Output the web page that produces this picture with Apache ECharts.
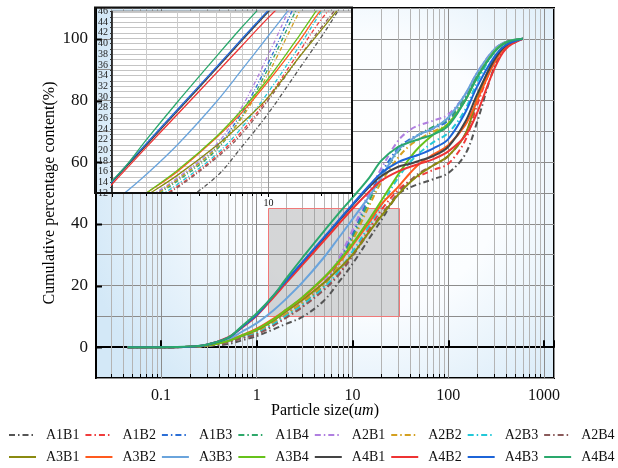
<!DOCTYPE html>
<html>
<head>
<meta charset="utf-8">
<script src="https://cdn.jsdelivr.net/npm/echarts@6/dist/echarts.min.js"></script>
<style>
html, body { margin: 0; padding: 0; background: #ffffff; }
#chart { width: 618px; height: 468px; }
</style>
</head>
<body>
<div id="chart"></div>
<script>
// Particle size (um) at which each cumulative curve is sampled
const sizes = [0.045, 0.1, 0.2, 0.3, 0.5, 0.7, 1, 1.5, 2, 3, 5, 7, 10, 15, 20, 30, 40, 50, 70, 100, 150, 200, 300, 400, 600];

// Cumulative percentage content (%) per sample
const A1B1 = [0, 0, 0.05, 0.3, 1.0, 2.2, 3.6, 5.8, 7.5, 9.8, 15, 20.6, 27, 35.3, 41.2, 49.5, 51.8, 53, 54.5, 56.5, 62.5, 73, 90.5, 97, 100];
const A1B2 = [0, 0, 0.1, 0.4, 1.6, 3.0, 4.3, 7.2, 9.6, 13.2, 18.8, 23.5, 30, 38.5, 44.5, 51, 54, 55.5, 57.5, 59.5, 67, 78.5, 92.5, 97.8, 100];
const A1B3 = [0, 0, 0.1, 0.5, 1.8, 3.4, 5.0, 8.2, 10.8, 14.5, 20.5, 27, 36.5, 49, 56.5, 64.5, 67.5, 69, 71, 73.5, 80.5, 88, 96, 99, 100];
const A1B4 = [0, 0, 0.1, 0.5, 1.8, 3.3, 4.8, 8.0, 10.5, 14.2, 20, 26.3, 35.5, 47.5, 55, 63.5, 67, 69, 71.5, 74, 81.5, 88.5, 96.3, 99, 100];
const A2B1 = [0, 0, 0.1, 0.5, 1.8, 3.5, 5.2, 8.5, 11, 14.8, 21, 28, 38, 50.5, 58, 67, 70.5, 72, 73.5, 75.5, 82, 89, 96.5, 99, 100];
const A2B2 = [0, 0, 0.1, 0.5, 1.8, 3.3, 4.8, 8.0, 10.6, 14.5, 20.3, 26, 34.5, 46, 53.5, 61.5, 65.5, 67.5, 70, 72.5, 80, 87.5, 96, 99, 100];
const A2B3 = [0, 0, 0.1, 0.4, 1.7, 3.1, 4.5, 7.5, 10, 13.6, 19.2, 24.2, 31, 39.5, 46, 55, 60, 63, 66.5, 69.5, 77, 86, 95.5, 98.8, 100];
const A2B4 = [0, 0, 0.1, 0.4, 1.6, 2.9, 4.2, 7.0, 9.4, 13, 18.5, 23, 29.5, 37.5, 43, 50, 54, 56.5, 59, 62, 69, 80, 93.5, 98, 100];
const A3B1 = [0, 0, 0.1, 0.5, 2.0, 3.6, 5.5, 8.7, 11.5, 15.3, 20.8, 25, 30, 37.5, 42.5, 49.5, 53.5, 56, 59, 62, 69, 80.5, 93.5, 98, 100];
const A3B2 = [0, 0, 0.1, 0.5, 2.1, 3.9, 6.0, 9.3, 12, 16, 22.3, 27, 33, 40.5, 46.3, 52, 56.5, 59.5, 62.5, 65.5, 72, 80, 92, 97.5, 100];
const A3B3 = [0, 0, 0.1, 0.6, 2.5, 5.0, 7.8, 12, 15.5, 21, 29, 35, 41.5, 49, 55, 64, 67, 69, 71, 74.5, 82, 89, 96.5, 99, 100];
const A3B4 = [0, 0, 0.1, 0.5, 2.0, 3.8, 5.8, 9.0, 12, 16.2, 22.5, 27.5, 33.5, 41.5, 47.5, 56, 61.5, 65, 69, 72.5, 80, 87.5, 95.8, 98.8, 100];
const A4B1 = [0, 0, 0.15, 0.8, 3.0, 6.5, 10.5, 16.6, 21, 27.3, 35.2, 40.5, 46, 52, 55.5, 58.5, 59.5, 60.5, 62, 65, 73, 82, 93, 97.8, 100];
const A4B2 = [0, 0, 0.15, 0.8, 3.2, 6.3, 10.2, 16.2, 20.6, 26.7, 34.4, 39.5, 44.9, 50.5, 54, 57, 58.5, 59.5, 61, 63.5, 68.5, 76, 90, 96.8, 100];
const A4B3 = [0, 0, 0.15, 0.8, 3.0, 6.5, 10.5, 16.8, 21.3, 27.6, 35.5, 40.8, 46.3, 52.5, 56.5, 60, 61.5, 62.5, 64.5, 67.5, 76, 84.5, 94, 98, 100];
const A4B4 = [0, 0, 0.2, 0.8, 3.0, 6.8, 11, 16.8, 22, 29, 37.5, 43, 48.5, 55, 60.5, 65, 66.5, 67.5, 69, 71.8, 80, 87.5, 95.5, 98.8, 100];

const sampleNames = ['A1B1', 'A1B2', 'A1B3', 'A1B4', 'A2B1', 'A2B2', 'A2B3', 'A2B4',
                     'A3B1', 'A3B2', 'A3B3', 'A3B4', 'A4B1', 'A4B2', 'A4B3', 'A4B4'];
const sampleValues = [A1B1, A1B2, A1B3, A1B4, A2B1, A2B2, A2B3, A2B4,
                      A3B1, A3B2, A3B3, A3B4, A4B1, A4B2, A4B3, A4B4];

// Axis ticks
const xLabelTicks = [0.1, 1, 10, 100, 1000];
const yLabelTicks = [0, 20, 40, 60, 80, 100];
const insetXLabelTicks = [10];

// Highlighted region that the inset enlarges
const zoomX = [1.32, 31];
const zoomY = [10, 45];

// ---- styling ----
const FONT = "'Liberation Serif', 'Times New Roman', serif";
const lineColors = {
  A1B1: '#555555', A1B2: '#f03c3c', A1B3: '#2c6fd6', A1B4: '#2ea86a',
  A2B1: '#b07fe0', A2B2: '#d4a020', A2B3: '#22c8d8', A2B4: '#8a5a5a',
  A3B1: '#8a8a10', A3B2: '#ff5a1e', A3B3: '#6aa4dc', A3B4: '#66c21a',
  A4B1: '#444444', A4B2: '#ee3333', A4B3: '#1c64d8', A4B4: '#2aa86c'
};
const isDashDot = name => name[1] === '1' || name[1] === '2';

const X_MIN = 0.021, X_MAX = 1270, Y_MIN = -10, Y_MAX = 110;
const IX_MIN = 1.27, IX_MAX = 30, IY_MIN = 12, IY_MAX = 46;

function minorLogSteps(lo, hi) {
  const out = [];
  for (let e = -3; e <= 4; e++) {
    const d = Math.pow(10, e);
    for (let k = 2; k <= 9; k++) {
      const v = +(k * d).toPrecision(6);
      if (v > lo * 1.001 && v < hi * 0.999) out.push(v);
    }
  }
  return out;
}

// vertical minor grid line with a short tick at the axis
function minorGridSeries(xIdx, yIdx, xs, yLo, yHi, gridColor, tickLen, tickDir, z) {
  return {
    type: 'custom', xAxisIndex: xIdx, yAxisIndex: yIdx, silent: true, z: z,
    data: xs.map(v => [v, yLo]),
    encode: { x: 0, y: 1 },
    renderItem: function (params, api) {
      const x = api.value(0);
      const a = api.coord([x, yLo]);
      const b = api.coord([x, yHi]);
      const px = Math.round(a[0]) + 0.5;
      return {
        type: 'group',
        children: [
          { type: 'line', shape: { x1: px, y1: a[1], x2: px, y2: b[1] }, style: { stroke: gridColor, lineWidth: 1 } },
          { type: 'line', shape: { x1: px, y1: a[1], x2: px, y2: a[1] + tickDir * tickLen }, style: { stroke: '#000', lineWidth: 1 } }
        ]
      };
    }
  };
}

// major ticks on the main y axis
function yTickSeries(values, len, z) {
  return {
    type: 'custom', xAxisIndex: 0, yAxisIndex: 0, silent: true, z: z,
    data: values.map(v => [X_MIN, v]),
    encode: { x: 0, y: 1 },
    renderItem: function (params, api) {
      const p = api.coord([X_MIN, api.value(1)]);
      const py = Math.round(p[1]) + 0.5;
      return { type: 'line', shape: { x1: p[0], y1: py, x2: p[0] + len, y2: py }, style: { stroke: '#000', lineWidth: 2 } };
    }
  };
}

const series = [];
series.push(minorGridSeries(0, 0, minorLogSteps(X_MIN, X_MAX), Y_MIN, Y_MAX, '#b4b4b4', 4, -1, 1));
series.push(yTickSeries(yLabelTicks, 6, 1));

// shaded box marking the enlarged range
series.push({
  type: 'custom', xAxisIndex: 0, yAxisIndex: 0, silent: true, z: 2,
  data: [[zoomX[0], zoomY[0], zoomX[1], zoomY[1]]],
  encode: { x: [0, 2], y: [1, 3] },
  renderItem: function (params, api) {
    const a = api.coord([api.value(0), api.value(1)]);
    const b = api.coord([api.value(2), api.value(3)]);
    return {
      type: 'rect',
      shape: { x: Math.round(a[0]) + 0.5, y: Math.round(b[1]) + 0.5, width: Math.round(b[0] - a[0]), height: Math.round(a[1] - b[1]) },
      style: { fill: 'rgba(150,150,150,0.38)', stroke: '#f07878', lineWidth: 1 }
    };
  }
});

sampleNames.forEach((name, i) => {
  const pts = sizes.map((s, j) => [s, sampleValues[i][j]]);
  const dash = isDashDot(name);
  series.push({
    name: name, type: 'line', xAxisIndex: 0, yAxisIndex: 0, data: pts,
    symbol: 'none', smooth: 0.35, z: 3,
    lineStyle: { color: lineColors[name], width: 2, type: dash ? [6, 3, 1.5, 3] : 'solid' },
    itemStyle: { color: lineColors[name] }
  });
});

series.push(minorGridSeries(1, 1, minorLogSteps(IX_MIN, IX_MAX), IY_MIN, IY_MAX, '#cccccc', 3, 1, 5));

sampleNames.forEach((name, i) => {
  const pts = sizes.map((s, j) => [s, sampleValues[i][j]]);
  const dash = isDashDot(name);
  series.push({
    name: name, type: 'line', xAxisIndex: 1, yAxisIndex: 1, data: pts,
    symbol: 'none', smooth: 0.35, z: 6, clip: true,
    lineStyle: { color: lineColors[name], width: 1.3, type: dash ? [4, 2, 1, 2] : 'solid' },
    itemStyle: { color: lineColors[name] }
  });
});

const legendCommon = {
  left: 8, width: 612, padding: 0, itemWidth: 27, itemHeight: 12, itemGap: 5,
  itemStyle: { color: 'rgba(0,0,0,0)', borderWidth: 0, opacity: 0 },
  textStyle: { fontFamily: FONT, fontSize: 14, color: '#111', padding: [0, 0, 0, 5] }
};

const option = {
  animation: false,
  backgroundColor: '#ffffff',
  grid: [
    {
      left: 96, right: 64, top: 8, bottom: 90, z: 0,
      show: true, borderColor: '#000', borderWidth: 2,
      backgroundColor: new echarts.graphic.RadialGradient(0.6, 0.45, 0.8, [
        { offset: 0, color: '#ffffff' },
        { offset: 0.45, color: '#fbfdff' },
        { offset: 1, color: '#d3e8f7' }
      ])
    },
    {
      left: 112, right: 266, top: 11.5, bottom: 275, z: 4,
      show: true, backgroundColor: '#ffffff', borderColor: '#222', borderWidth: 1.5
    }
  ],
  xAxis: [
    {
      type: 'log', logBase: 10, gridIndex: 0, min: X_MIN, max: X_MAX, z: 0,
      name: 'Particle size({i|um})', nameLocation: 'middle', nameGap: 25, nameMoveOverlap: false,
      nameTextStyle: {
        fontFamily: FONT, fontSize: 16, color: '#000',
        rich: { i: { fontFamily: FONT, fontSize: 16, fontStyle: 'italic', color: '#000' } }
      },
      axisLine: { show: true, lineStyle: { color: '#000', width: 2 } },
      axisTick: { show: true, inside: true, length: 7, lineStyle: { color: '#000', width: 2 } },
      axisLabel: {
        fontFamily: FONT, fontSize: 16, color: '#111', margin: 10,
        formatter: v => (xLabelTicks.some(t => Math.abs(t - v) / t < 1e-6) ? String(v) : '')
      },
      splitLine: { show: true, lineStyle: { color: '#8c8c8c', width: 1 } }
    },
    {
      type: 'log', logBase: 10, gridIndex: 1, min: IX_MIN, max: IX_MAX, z: 5,
      axisLine: { show: true, lineStyle: { color: '#222', width: 1.5 } },
      axisTick: { show: true, inside: false, length: 4, lineStyle: { color: '#000', width: 1 } },
      axisLabel: {
        fontFamily: FONT, fontSize: 10, color: '#111', margin: 5,
        formatter: v => (insetXLabelTicks.some(t => Math.abs(t - v) / t < 1e-6) ? String(v) : '')
      },
      splitLine: { show: true, lineStyle: { color: '#9a9a9a', width: 1 } }
    }
  ],
  yAxis: [
    {
      type: 'value', gridIndex: 0, min: Y_MIN, max: Y_MAX, interval: 10, z: 0,
      name: 'Cumulative percentage content(%)', nameLocation: 'middle', nameGap: 38, nameMoveOverlap: false,
      nameTextStyle: { fontFamily: FONT, fontSize: 16, color: '#000' },
      axisLine: { show: true, lineStyle: { color: '#000', width: 2 } },
      axisTick: { show: false },
      axisLabel: {
        fontFamily: FONT, fontSize: 17, color: '#111', margin: 8,
        formatter: v => (yLabelTicks.indexOf(v) >= 0 ? String(v) : '')
      },
      splitLine: { show: true, lineStyle: { color: '#8c8c8c', width: 1 } }
    },
    {
      type: 'value', gridIndex: 1, min: IY_MIN, max: IY_MAX, interval: 1, z: 5,
      axisLine: { show: true, lineStyle: { color: '#222', width: 1.5 } },
      axisTick: { show: true, inside: false, length: 2, lineStyle: { color: '#333', width: 1 } },
      axisLabel: {
        fontFamily: FONT, fontSize: 10, color: '#222', margin: 4,
        formatter: v => (v % 2 === 0 ? String(v) : '')
      },
      splitLine: { show: true, lineStyle: { color: '#c4c4c4', width: 1 } }
    }
  ],
  legend: [
    Object.assign({}, legendCommon, { top: 428, data: sampleNames.slice(0, 8) }),
    Object.assign({}, legendCommon, { top: 450, data: sampleNames.slice(8) })
  ],
  graphic: [
    {
      type: 'rect', z: 20, silent: true,
      shape: { x: 95, y: 7.5, width: 257, height: 185.5 },
      style: { fill: 'none', stroke: '#111', lineWidth: 2 }
    }
  ],
  series: series
};

const chart = echarts.init(document.getElementById('chart'), null, { renderer: 'canvas' });
chart.setOption(option);
</script>
</body>
</html>
